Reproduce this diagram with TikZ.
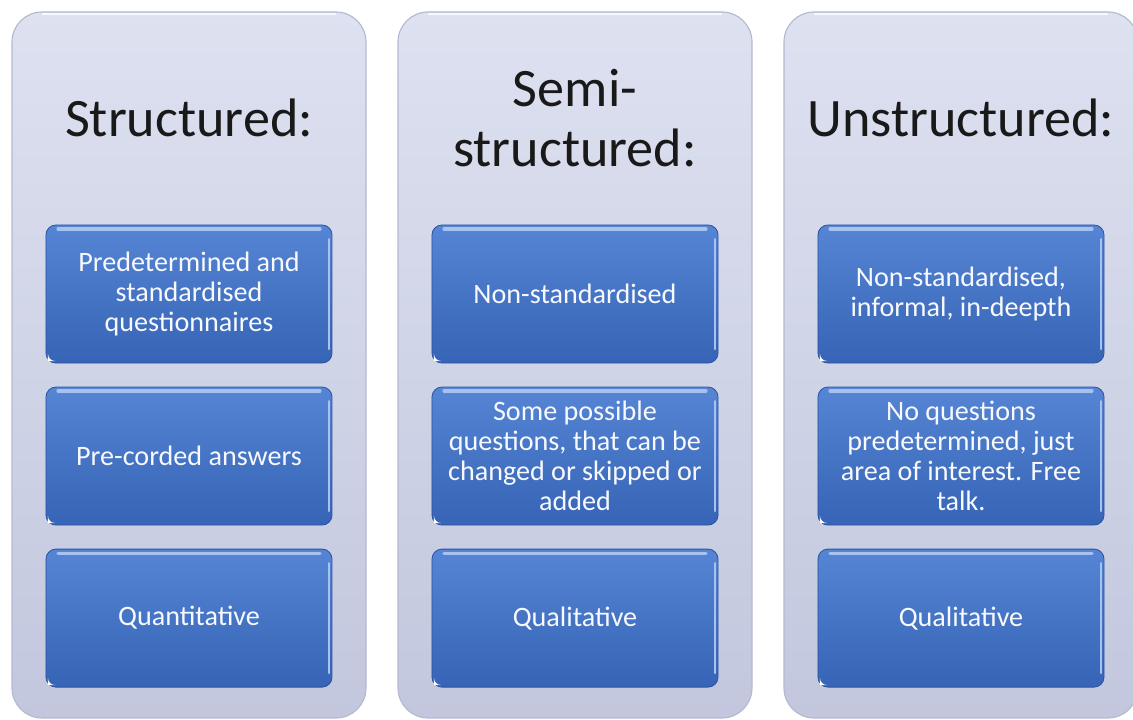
\documentclass[tikz,border=0pt]{standalone}
\usepackage{fontspec}
\setmainfont{Carlito}
\usetikzlibrary{positioning,calc}
\definecolor{intPanelTop}{HTML}{DDE1F0}
\definecolor{intPanelBot}{HTML}{C2C7DE}
\definecolor{intPanelLine}{HTML}{B4B9D2}
\definecolor{intBoxTop}{HTML}{5585D4}
\definecolor{intBoxBot}{HTML}{3764B6}
\definecolor{intBoxLine}{HTML}{2C55A0}
\definecolor{intGloss}{HTML}{A7C2EE}

\tikzset{
  panel/.style={draw=intPanelLine, line width=0.8pt, rounded corners=0.75cm,
    top color=intPanelTop, bottom color=intPanelBot},
  heading/.style={font=\fontsize{38.5}{42.5}\selectfont, text=black!90,
    align=flush center, inner sep=0pt},
  itembox/.style={draw=intBoxLine, line width=0.6pt, rounded corners=0.25cm,
    top color=intBoxTop, bottom color=intBoxBot, text=white!95!intBoxTop,
    align=flush center, font=\fontsize{20}{21.3}\selectfont, minimum width=7.15cm,
    minimum height=3.45cm, text width=6.8cm, inner sep=0pt, outer sep=0pt},
  gloss/.style={intGloss, line width=2.2pt, line cap=round}
}

\begin{document}
\begin{tikzpicture}[x=0.025cm, y=-0.025cm]

% --- PARAMETERS ---
\def\panW{354}     % panel width (px)
\def\panGap{32}    % gap between panels
\def\panTop{12}
\def\panBot{718}
\def\boxTopY{225}  % top of first box

\clip (0,0) rectangle (1133,720);
\fill[white] (0,0) rectangle (1133,720);

% --- COLUMNS: heading / three boxes ---
\foreach [count=\c] \ttl/\ba/\bb/\bc in {%
  {Structured:}/{Predetermined and\\standardised\\questionnaires}/{Pre-corded answers}/{Quantitative},%
  {Semi-\\structured:}/{Non-standardised}/{Some possible\\questions, that can be\\changed or skipped or\\added}/{Qualitative},%
  {Unstructured:}/{Non-standardised,\\informal, in-deepth}/{No questions\\predetermined, just\\area of interest. Free\\talk.}/{Qualitative}%
} {
  \pgfmathsetmacro\xL{12 + (\c-1)*(\panW+\panGap)}
  \pgfmathsetmacro\xC{\xL + \panW/2}
  % background panel
  \draw[panel] (\xL,\panTop) rectangle ++(\panW,\panBot-\panTop);
  \draw[white, line width=1.2pt, opacity=0.8]
    ($(\xL,\panTop)+(30,2)$) -- ($(\xL,\panTop)+(\panW-30,2)$);
  % heading
  \node[heading] (title\c) at (\xC,118) {\ttl};
  % boxes
  \node[itembox, anchor=north] (box\c-1) at (\xC,\boxTopY) {\ba};
  \node[itembox, below=0.6cm of box\c-1] (box\c-2) {\bb};
  \node[itembox, below=0.6cm of box\c-2] (box\c-3) {\bc};
  % gloss strip and corner tick on each box
  \foreach \r in {1,2,3} {
    \draw[gloss] ([xshift=0.3cm,yshift=-0.1cm]box\c-\r.north west)
      -- ([xshift=-0.3cm,yshift=-0.1cm]box\c-\r.north east);
    \draw[intGloss, line width=1.4pt, line cap=round]
      ([xshift=-0.08cm,yshift=-0.35cm]box\c-\r.north east)
      -- ([xshift=-0.08cm,yshift=0.35cm]box\c-\r.south east);
    \fill[white] ([xshift=0.05cm,yshift=0.05cm]box\c-\r.south west)
      ++(0cm,0.18cm) arc[start angle=180, end angle=270, radius=0.18cm]
      -- ++(-0.18cm,0cm) -- cycle;
  }
}

\end{tikzpicture}
\end{document}
